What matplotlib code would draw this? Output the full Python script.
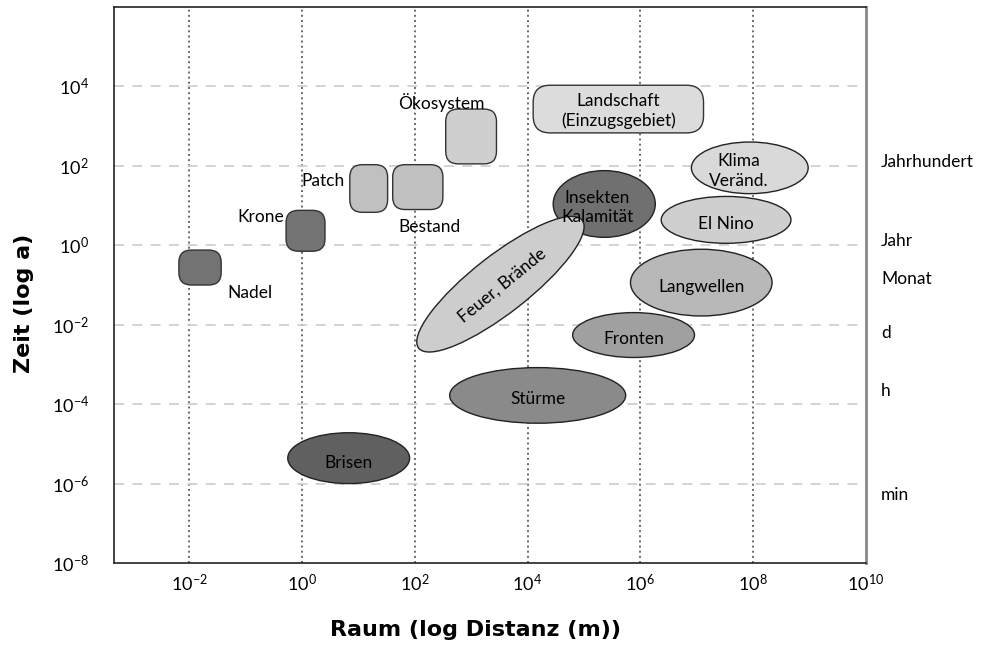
import matplotlib
matplotlib.use('Agg')
import matplotlib.pyplot as plt
from matplotlib.patches import Ellipse, FancyBboxPatch
from matplotlib.transforms import Affine2D

plt.rcParams['font.family'] = ['Lato', 'DejaVu Sans']
plt.rcParams['mathtext.fontset'] = 'custom'
plt.rcParams['mathtext.rm'] = 'Lato'
plt.rcParams['mathtext.it'] = 'Lato:italic'
plt.rcParams['mathtext.bf'] = 'Lato:bold'

# log10 exponents (x: distance in m, y: time in a)
x_ticks = [-2, 0, 2, 4, 6, 8, 10]
y_ticks = [-8, -6, -4, -2, 0, 2, 4]

# rounded boxes: extent in decades
box_names = ['Nadel', 'Krone', 'Patch', 'Bestand', 'Ökosystem', 'Landschaft\n(Einzugsgebiet)']
box_x0 = [-2.18, -0.28, 0.85, 1.61, 2.55, 4.10]
box_x1 = [-1.43, 0.41, 1.52, 2.50, 3.45, 7.12]
box_y0 = [-1.00, -0.15, 0.83, 0.90, 2.05, 2.83]
box_y1 = [-0.12, 0.88, 2.03, 2.03, 3.43, 4.03]
box_colors = ['#737373', '#737373', '#c0c0c0', '#c0c0c0', '#cfcfcf', '#dcdcdc']
box_lab_x = [-0.92, -0.32, 0.76, 2.27, 2.47, 5.61]
box_lab_y = [-1.19, 0.72, 1.62, 0.46, 3.60, 3.38]
box_lab_ha = ['center', 'right', 'right', 'center', 'center', 'center']

# ellipses: centre, width (x decades), height (y decades), angle
ell_names = ['Insekten\nKalamität', 'Feuer, Brände', 'Klima\nVeränd.', 'El Nino',
             'Langwellen', 'Fronten', 'Stürme', 'Brisen']
ell_cx = [5.36, 3.52, 7.94, 7.52, 7.08, 5.88, 4.18, 0.83]
ell_cy = [1.04, -0.98, 1.95, 0.64, -0.94, -2.26, -3.78, -5.36]
ell_w = [1.81, 3.68, 2.07, 2.30, 2.51, 2.16, 3.12, 2.16]
ell_h = [1.68, 1.45, 1.30, 1.18, 1.68, 1.13, 1.40, 1.28]
ell_ang = [0, 38, 0, 0, 0, 0, 0, 0]
ell_colors = ['#707070', '#cdcdcd', '#d9d9d9', '#cfcfcf', '#b8b8b8', '#a0a0a0', '#8a8a8a', '#606060']
ell_lab_x = [5.24, 3.55, 7.74, 7.52, 7.08, 5.88, 4.18, 0.83]
ell_lab_y = [0.96, -1.02, 1.87, 0.54, -1.05, -2.37, -3.87, -5.47]

# time scale names on the right
scale_names = ['Jahrhundert', 'Jahr', 'Monat', 'd', 'h', 'min']
scale_y = [2.10, 0.12, -0.84, -2.22, -3.67, -6.28]

fig = plt.figure(figsize=(9.87, 6.46), dpi=100)
ax = fig.add_axes([114 / 987, 1 - 563 / 646, 752 / 987, 556 / 646])
xmin, xmax, ymin, ymax = -3.33, 10, -8, 6
ax.set_xlim(xmin, xmax)
ax.set_ylim(ymin, ymax)

# visual aspect: y units per x unit of same screen length
k = (752 / (xmax - xmin)) / (556 / (ymax - ymin))

for x in x_ticks[:-1]:
    ax.axvline(x, color='#6a6a6a', ls=':', lw=1.4, zorder=0)
for y in y_ticks[1:]:
    ax.axhline(y, color='#cccccc', ls=(0, (6, 5)), lw=1.2, zorder=0)

for i in range(len(box_names)):
    r = 0.22 if i < 5 else 0.30
    p = FancyBboxPatch((box_x0[i], box_y0[i]), box_x1[i] - box_x0[i], box_y1[i] - box_y0[i],
                       boxstyle='round,pad=0,rounding_size=%f' % r, mutation_aspect=k,
                       fc=box_colors[i], ec='#333333', lw=1.0, zorder=2)
    ax.add_patch(p)
    ax.text(box_lab_x[i], box_lab_y[i], box_names[i], ha=box_lab_ha[i], va='center',
            fontsize=12.5, linespacing=1.25, zorder=5)

for i in range(len(ell_names)):
    tr = Affine2D().scale(1, k).translate(ell_cx[i], ell_cy[i]) + ax.transData
    e = Ellipse((0, 0), ell_w[i], ell_h[i] / k, angle=ell_ang[i], transform=tr,
                fc=ell_colors[i], ec='#222222', lw=1.0, zorder=3 + i * 0.01)
    ax.add_patch(e)
    ax.text(ell_lab_x[i], ell_lab_y[i], ell_names[i], ha='center', va='center',
            rotation=ell_ang[i] + (1 if ell_ang[i] else 0), rotation_mode='anchor',
            fontsize=12.5, linespacing=1.25, zorder=5)

for name, y in zip(scale_names, scale_y):
    ax.text(1.02, y, name, transform=ax.get_yaxis_transform(), ha='left', va='center',
            fontsize=12.5)

ax.set_xticks(x_ticks)
ax.set_xticklabels(['$\\mathregular{10^{%d}}$' % v for v in x_ticks])
ax.set_yticks(y_ticks)
ax.set_yticklabels(['$\\mathregular{10^{%d}}$' % v for v in y_ticks])
ax.tick_params(length=0, labelsize=13)
ax.tick_params(axis='x', pad=7)
ax.tick_params(axis='y', pad=18)

for s in ['left', 'bottom', 'top']:
    ax.spines[s].set_color('#222222')
    ax.spines[s].set_linewidth(1.2)
ax.spines['right'].set_color('#888888')
ax.spines['right'].set_linewidth(2)

fig.text(476 / 987, 1 - 630 / 646, 'Raum (log Distanz (m))', ha='center', va='center',
         fontsize=16, fontweight='bold', family='DejaVu Sans')
fig.text(24 / 987, 1 - 303 / 646, 'Zeit (log a)', ha='center', va='center', rotation=90,
         fontsize=16, fontweight='bold', family='DejaVu Sans')

fig.savefig('out.png', dpi=100)
